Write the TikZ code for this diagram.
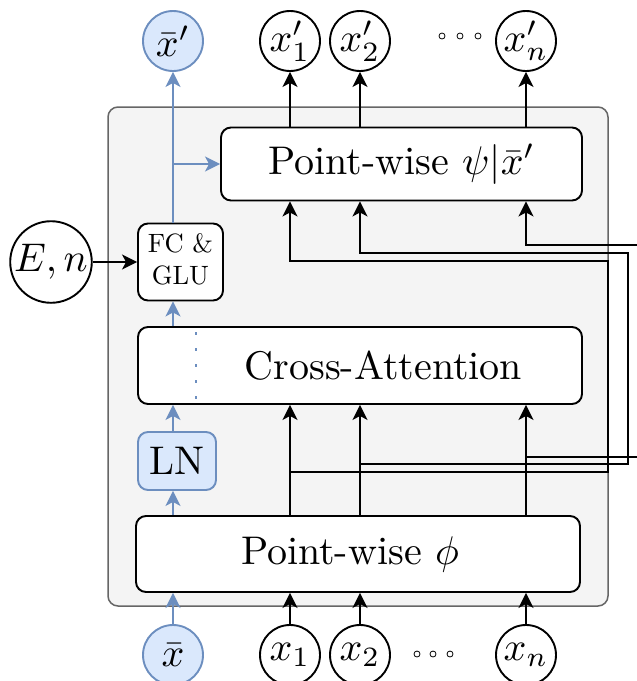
\documentclass[tikz,border=0pt]{standalone}
\usetikzlibrary{arrows.meta}
\definecolor{blueline}{HTML}{6C8EBF}
\definecolor{bluefill}{HTML}{DAE8FC}
\definecolor{panelfill}{HTML}{F4F4F4}
\definecolor{panelline}{HTML}{666666}
\newcommand{\bigtxt}[1]{\scalebox{4}{#1}}
\begin{document}
\begin{tikzpicture}[x=1pt,y=-1pt,
    block/.style={draw,fill=white,rounded corners=10pt,line width=1.9pt,inner sep=0pt},
    var/.style={draw,circle,fill=white,line width=1.9pt,inner sep=0pt,minimum size=60pt},
    bvar/.style={var,draw=blueline,fill=bluefill},
    arr/.style={-{Stealth[length=15pt,width=15pt,inset=4pt]},line width=2pt},
    barr/.style={arr,blueline}]
  \useasboundingbox (0,0) rectangle (637,681);
  \draw[panelline,fill=panelfill,line width=1.5pt,rounded corners=10pt] (108,107) rectangle (608,606);
  % blocks
  \node[block,minimum width=361pt,minimum height=73pt] (psi) at (401.5,164) {\bigtxt{Point-wise $\psi|\bar{x}'$}};
  \node[block,minimum width=85pt,minimum height=77pt] (fc) at (180.5,262) {\scalebox{2.65}{\begin{tabular}{@{}c@{}}FC \&\\GLU\end{tabular}}};
  \node[block,minimum width=444pt,minimum height=77pt] (ca) at (360,365.5) {\hspace*{47pt}\bigtxt{Cross-Attention}};
  \node[block,draw=blueline,fill=bluefill,minimum width=78pt,minimum height=58pt] (ln) at (177,461) {\bigtxt{LN}};
  \node[block,minimum width=444pt,minimum height=76pt] (phi) at (358,554) {\bigtxt{Point-wise $\phi$}\hspace*{16pt}};
  % variables
  \node[bvar] (xbarp) at (173,41) {\bigtxt{$\bar{x}'$}};
  \node[var] (x1p) at (290,41) {\bigtxt{$x'_1$}};
  \node[var] (x2p) at (360,41) {\bigtxt{$x'_2$}};
  \node[var] (xnp) at (526,41) {\bigtxt{$x'_n$}};
  \node[bvar] (xbar) at (173,655) {\bigtxt{$\bar{x}$}};
  \node[var] (x1) at (290,655) {\bigtxt{$x_1$}};
  \node[var] (x2) at (360,655) {\bigtxt{$x_2$}};
  \node[var] (xn) at (526,655) {\bigtxt{$x_n$}};
  \node[var] (en) at (51,262) {\bigtxt{$E,n$}};
  \foreach \i/\x in {1/442,2/460,3/478}
    \node[draw,circle,inner sep=0pt,minimum size=6pt,line width=0.8pt] (dt\i) at (\x,36) {};
  \foreach \i/\x in {1/417,2/433,3/450}
    \node[draw,circle,inner sep=0pt,minimum size=6pt,line width=0.8pt] (db\i) at (\x,654) {};
  % blue path
  \draw[barr] (xbar) -- (xbar |- phi.south);
  \draw[barr] (phi.north -| xbar) -- (ln.south -| xbar);
  \draw[barr] (ln.north -| xbar) -- (ca.south -| xbar);
  \draw[barr] (ca.north -| xbar) -- (fc.south -| xbar);
  \draw[barr] (fc.north -| xbar) -- (xbarp);
  \draw[barr] (fc.north -| xbar) |- (psi.west);
  \draw[blueline,line width=2.6pt,dash pattern=on 2.6pt off 13.4pt] (196,332) -- (196,400);
  \draw[arr] (en) -- (fc);
  % points in
  \draw[arr] (x1) -- (x1 |- phi.south);
  \draw[arr] (x2) -- (x2 |- phi.south);
  \draw[arr] (xn) -- (xn |- phi.south);
  \draw[arr] (x1 |- phi.north) -- (x1 |- ca.south);
  \draw[arr] (x2 |- phi.north) -- (x2 |- ca.south);
  \draw[arr] (xn |- phi.north) -- (xn |- ca.south);
  % skip lines to psi
  \coordinate (b1) at (608,472);
  \coordinate (t1) at (608,261);
  \coordinate (b2) at (628,464);
  \coordinate (t2) at (628,253);
  \coordinate (b3) at (650,457);
  \coordinate (t3) at (650,245);
  \draw[arr] (x1 |- phi.north) -- (x1 |- b1) -- (b1) -- (t1) -- (x1 |- t1) -- (x1 |- psi.south);
  \draw[arr] (x2 |- phi.north) -- (x2 |- b2) -- (b2) -- (t2) -- (x2 |- t2) -- (x2 |- psi.south);
  \draw[arr] (xn |- phi.north) -- (xn |- b3) -- (b3) -- (t3) -- (xn |- t3) -- (xn |- psi.south);
  % points out
  \draw[arr] (x1p |- psi.north) -- (x1p);
  \draw[arr] (x2p |- psi.north) -- (x2p);
  \draw[arr] (xnp |- psi.north) -- (xnp);
\end{tikzpicture}
\end{document}
